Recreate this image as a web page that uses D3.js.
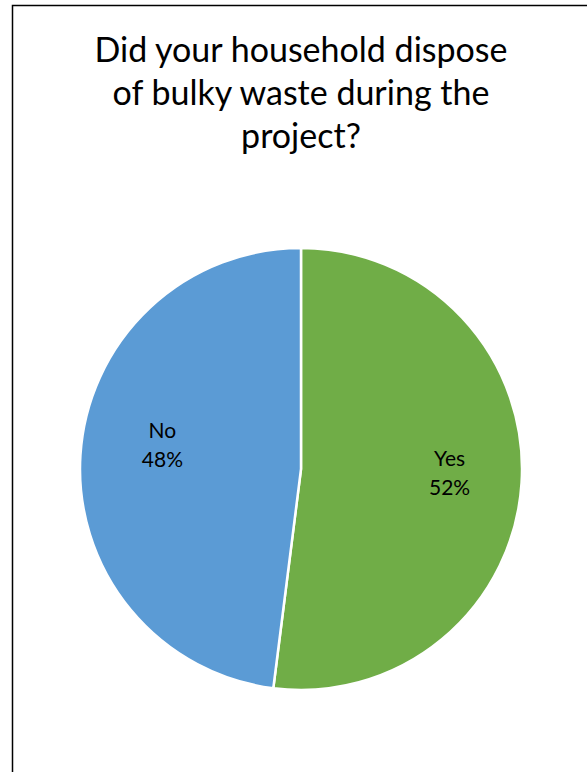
<!DOCTYPE html>
<html>
<head>
<meta charset="utf-8">
<script src="https://cdn.jsdelivr.net/npm/d3@7"></script>
<style>
  html, body { margin: 0; padding: 0; background: #fff; }
  svg { display: block; }
</style>
</head>
<body>
<svg id="chart" width="587" height="772"></svg>
<script>
// Survey answers and their shares (percent)
const categories = ["Yes", "No"];
const shares = [52, 48];
const sliceColors = ["#70AD47", "#5B9BD5"];
const titleLines = ["Did your household dispose", "of bulky waste during the", "project?"];

const svg = d3.select("#chart");
const FONT = "Lato, 'Open Sans', sans-serif";

// chart frame (runs off the right and bottom edges)
svg.append("rect")
  .attr("x", 12.5).attr("y", 5.5)
  .attr("width", 620).attr("height", 820)
  .attr("fill", "#fff")
  .attr("stroke", "#000")
  .attr("stroke-width", 1.5);

// title
const title = svg.append("text")
  .attr("text-anchor", "middle")
  .attr("font-family", FONT)
  .attr("font-size", 34)
  .attr("fill", "#000");
titleLines.forEach((line, i) => {
  title.append("tspan")
    .attr("x", 301)
    .attr("y", 62 + i * 43)
    .text(line);
});

// pie
const cx = 301, cy = 469, r = 221;
const data = categories.map((c, i) => ({ category: c, value: shares[i] }));
const color = d3.scaleOrdinal().domain(categories).range(sliceColors);

const pie = d3.pie().value(d => d.value).sort(null);
const arc = d3.arc().innerRadius(0).outerRadius(r);
const labelArc = d3.arc().innerRadius(r * 0.66).outerRadius(r * 0.66);
// best-fit nudges for the data labels
const labelNudge = { Yes: [3, -6], No: [7, -15] };

const g = svg.append("g").attr("transform", `translate(${cx},${cy})`);
const arcs = pie(data);

g.selectAll("path")
  .data(arcs)
  .join("path")
  .attr("d", arc)
  .attr("fill", d => color(d.data.category))
  .attr("stroke", "#fff")
  .attr("stroke-width", 2.5)
  .attr("stroke-linejoin", "round");

const labels = g.selectAll("text.lbl")
  .data(arcs)
  .join("text")
  .attr("class", "lbl")
  .attr("text-anchor", "middle")
  .attr("font-family", FONT)
  .attr("font-size", 21)
  .attr("fill", "#000")
  .attr("transform", d => {
    const [x, y] = labelArc.centroid(d);
    const [nx, ny] = labelNudge[d.data.category];
    return `translate(${x + nx},${y + ny})`;
  });

labels.append("tspan")
  .attr("x", 0).attr("y", -6.5)
  .text(d => d.data.category);
labels.append("tspan")
  .attr("x", 0).attr("y", 22.5)
  .text(d => d.data.value + "%");
</script>
</body>
</html>
